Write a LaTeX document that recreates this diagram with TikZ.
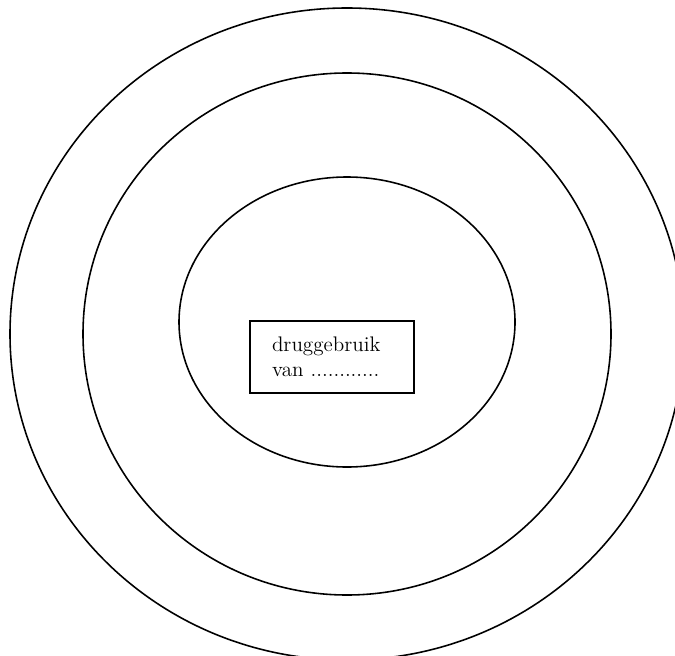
\documentclass[tikz,border=0pt]{standalone}
\usepackage{tikz}
\usetikzlibrary{positioning}
\definecolor{ringblack}{RGB}{0,0,0}
\tikzset{
  ring/.style={draw=ringblack,line width=0.9pt},
  labelbox/.style={draw=ringblack,line width=0.9pt,fill=white,align=left,
    text width=2.4cm,inner xsep=0.44cm,minimum height=1.44cm,
    font=\fontsize{12}{14.2}\selectfont}
}
\begin{document}
\begin{tikzpicture}[x=0.02cm,y=-0.02cm]
  \useasboundingbox (0,0) rectangle (675,655);
  \clip (0,0) rectangle (675,655);
  \draw[ring] (347,334) ellipse [x radius=337,y radius=326];
  \draw[ring] (347,334) ellipse [x radius=264,y radius=261];
  \draw[ring] (347,322) ellipse [x radius=168,y radius=145];
  \node[labelbox] (use) at (332,357) {druggebruik\\van ............};
\end{tikzpicture}
\end{document}
